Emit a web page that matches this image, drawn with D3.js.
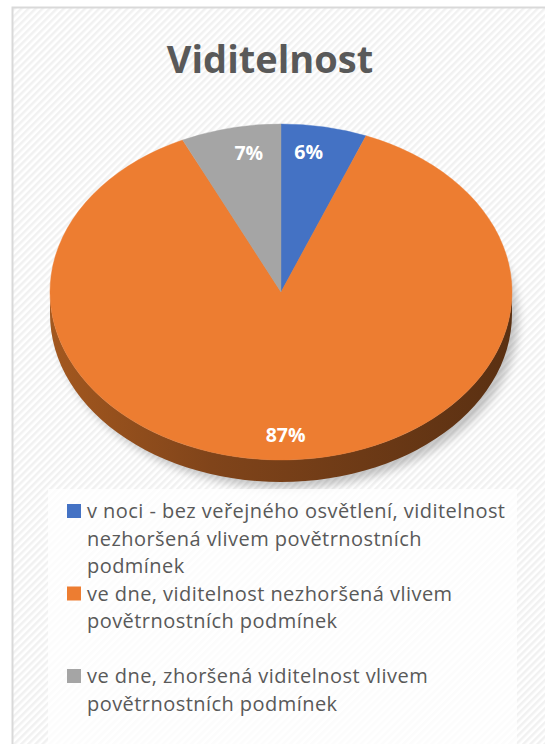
<!DOCTYPE html>
<html>
<head>
<meta charset="utf-8">
<script src="https://cdn.jsdelivr.net/npm/d3@7"></script>
<style>
  body { margin: 0; background: #ffffff; }
  svg { display: block; font-family: "Open Sans", "Noto Sans", sans-serif; }
</style>
</head>
<body>
<svg id="chart" width="545" height="744"></svg>
<script>
// data
var categories = [
  ["v noci - bez veřejného osvětlení, viditelnost", "nezhoršená vlivem povětrnostních", "podmínek"],
  ["ve dne, viditelnost nezhoršená vlivem", "povětrnostních podmínek"],
  ["ve dne, zhoršená viditelnost vlivem", "povětrnostních podmínek"]
];
var shares = [6, 87, 7];
var slice_colors = ["#4472c4", "#ed7d31", "#a5a5a5"];
var title_text = "Viditelnost";

var width = 545;
var height = 744;
var cx = 281, cy = 292;
var rx = 231, ry = 168;
var depth = 22;

var svg = d3.select("#chart");
var defs = svg.append("defs");

// striped background like the office theme
var stripes = defs.append("pattern")
  .attr("id", "stripes")
  .attr("width", 5)
  .attr("height", 5)
  .attr("patternUnits", "userSpaceOnUse")
  .attr("patternTransform", "rotate(45)");
stripes.append("rect").attr("width", 5).attr("height", 5).attr("fill", "#ffffff");
stripes.append("rect").attr("width", 2.5).attr("height", 5).attr("fill", "#f1f1f1");

var side_grad = defs.append("linearGradient")
  .attr("id", "side-grad")
  .attr("x1", "0%").attr("x2", "100%").attr("y1", "0%").attr("y2", "0%");
side_grad.append("stop").attr("offset", "0%").attr("stop-color", "#a3581f");
side_grad.append("stop").attr("offset", "35%").attr("stop-color", "#80441a");
side_grad.append("stop").attr("offset", "100%").attr("stop-color", "#5a3012");

var blur = defs.append("filter").attr("id", "shadow")
  .attr("x", "-20%").attr("y", "-20%").attr("width", "140%").attr("height", "140%");
blur.append("feGaussianBlur").attr("stdDeviation", 5);

// frame
svg.append("rect")
  .attr("x", 12.5).attr("y", 7.5)
  .attr("width", width).attr("height", height)
  .attr("fill", "url(#stripes)")
  .attr("stroke", "#d9d9d9")
  .attr("stroke-width", 2);

// title
svg.append("text")
  .attr("x", 270)
  .attr("y", 73)
  .attr("text-anchor", "middle")
  .attr("font-size", 38)
  .attr("font-weight", "bold")
  .attr("fill", "#595959")
  .text(title_text);

// pie
var pie = d3.pie().sort(null).value(function(d){return d;});
var arcs = pie(shares);
var arc = d3.arc().innerRadius(0).outerRadius(rx);
var k = ry / rx;

// point on the rim, angle in d3 convention (0 = 12 o'clock, clockwise)
function rim(a, dy)
{
  return [cx + rx * Math.sin(a), cy - ry * Math.cos(a) + dy];
}

// soft shadow under the disc
svg.append("ellipse")
  .attr("cx", cx + 6).attr("cy", cy + depth + 6)
  .attr("rx", rx).attr("ry", ry)
  .attr("fill", "#000000")
  .attr("opacity", 0.22)
  .attr("filter", "url(#shadow)");

// side wall, only the front half shows
var line = d3.line();
arcs.forEach(function(d, i)
{
  var a0 = Math.max(d.startAngle, Math.PI / 2);
  var a1 = Math.min(d.endAngle, Math.PI * 1.5);
  if (a1 <= a0) return;
  var top_pts = d3.range(0, 61).map(function(j){return rim(a0 + (a1 - a0) * j / 60, 0);});
  var bot_pts = d3.range(60, -1, -1).map(function(j){return rim(a0 + (a1 - a0) * j / 60, depth);});
  svg.append("path")
    .attr("d", line(top_pts.concat(bot_pts)) + "Z")
    .attr("fill", i == 1 ? "url(#side-grad)" : d3.color(slice_colors[i]).darker(1.2));
});

var top_g = svg.append("g")
  .attr("transform", "translate(" + cx + "," + cy + ") scale(1," + k + ")");
top_g.selectAll(".slice")
  .data(arcs)
  .enter()
  .append("path")
  .classed("slice", true)
  .attr("d", arc)
  .attr("fill", function(d, i){return slice_colors[i];})
  .attr("stroke", function(d, i){return slice_colors[i];})
  .attr("stroke-width", 0.5);

// data labels
var lab_x = 0.64, lab_y = 0.85;
svg.selectAll(".pct")
  .data(arcs)
  .enter()
  .append("text")
  .classed("pct", true)
  .attr("x", function(d){var a = (d.startAngle + d.endAngle) / 2; return cx + rx * lab_x * Math.sin(a);})
  .attr("y", function(d){var a = (d.startAngle + d.endAngle) / 2; return cy - ry * lab_y * Math.cos(a) + 7;})
  .attr("text-anchor", "middle")
  .attr("font-size", 19.5)
  .attr("font-weight", "bold")
  .attr("fill", "#ffffff")
  .text(function(d){return d.data + "%";});

// legend
svg.append("rect")
  .attr("x", 48).attr("y", 489)
  .attr("width", 469).attr("height", 260)
  .attr("fill", "#ffffff")
  .attr("opacity", 0.75);

var legend_y = d3.scalePoint()
  .domain(d3.range(categories.length))
  .range([518, 683]);

var items = svg.selectAll(".legend-item")
  .data(categories)
  .enter()
  .append("g")
  .classed("legend-item", true)
  .attr("transform", function(d, i){return "translate(0," + legend_y(i) + ")";});

items.append("rect")
  .attr("x", 67).attr("y", -14)
  .attr("width", 14).attr("height", 14)
  .attr("fill", function(d, i){return slice_colors[i];});

items.append("text")
  .attr("x", 87)
  .attr("font-size", 20)
  .attr("letter-spacing", 0.45)
  .attr("fill", "#595959")
  .selectAll("tspan")
  .data(function(d){return d;})
  .enter()
  .append("tspan")
  .attr("x", 87)
  .attr("dy", function(d, i){return i == 0 ? 0 : 27.5;})
  .text(function(d){return d;});
</script>
</body>
</html>
